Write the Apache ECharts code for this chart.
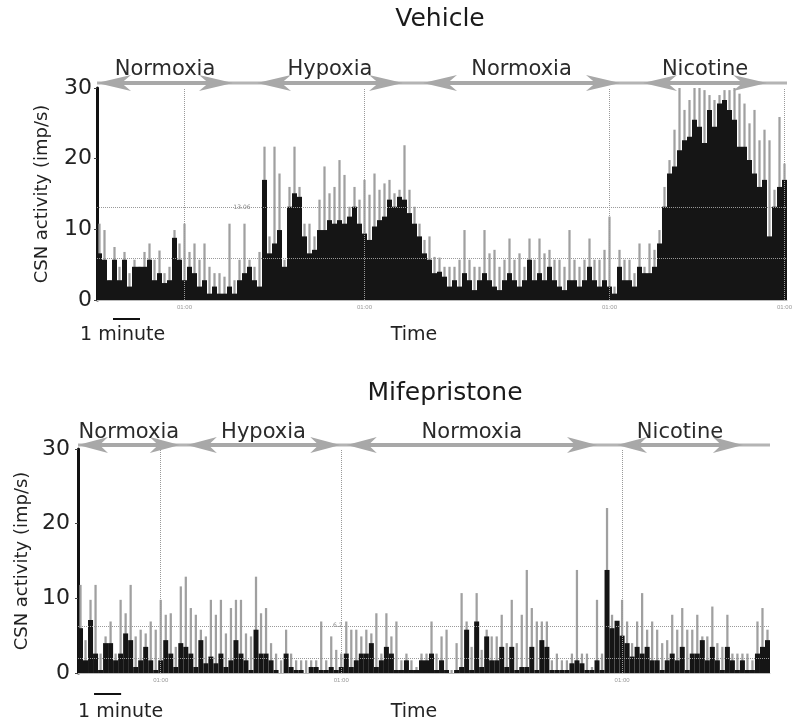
<!DOCTYPE html>
<html>
<head>
<meta charset="utf-8">
<script src="https://cdn.jsdelivr.net/npm/echarts@6/dist/echarts.min.js"></script>
<style>
html, body { margin: 0; padding: 0; background: #fff; }
#chart { width: 800px; height: 728px; }
</style>
</head>
<body>
<div id="chart"></div>
<script>
// CSN activity histograms, 138 time bins per trace (imp/s)
// "peak" = grey spikes on top, "body" = dark mass underneath
var vehPeak = [
  10.8, 9.9, 2.8, 7.5, 4.7, 6.8, 3.8, 5.7, 4.7, 6.8, 8.0, 5.7, 7.0, 3.8, 4.7, 9.9, 8.0, 10.8, 6.8, 8.0, 5.7, 8.0, 4.7, 3.8, 3.8, 3.3, 10.8, 2.8, 5.7, 10.8, 5.7, 4.7, 6.8, 21.7,
  9.0, 21.7, 17.9, 5.7, 16.0, 21.7, 16.0, 10.8, 10.8, 9.0, 14.2, 18.9, 15.1, 16.0, 19.8, 17.7, 13.2, 16.0, 14.2, 17.0, 14.9, 17.9, 15.6, 16.5, 17.0, 15.1, 15.6, 21.9, 15.6, 13.2, 10.8, 8.5, 9.0, 6.1,
  6.0, 4.7, 4.7, 4.7, 5.7, 9.9, 5.7, 4.7, 4.7, 9.9, 6.6, 7.1, 4.7, 5.7, 8.7, 5.7, 6.6, 4.7, 8.7, 5.7, 8.7, 6.6, 7.1, 5.7, 5.7, 4.7, 9.9, 5.7, 4.7, 5.7, 8.7, 5.7, 5.7, 7.1,
  11.8, 1.9, 7.1, 5.7, 5.7, 3.8, 8.0, 4.7, 8.0, 7.1, 9.9, 16.0, 19.8, 24.1, 30, 26.9, 28.3, 30, 30, 29.7, 29.0, 28.3, 29.0, 29.7, 29.7, 30, 29.2, 27.8, 25.0, 26.9, 22.6, 24.1, 22.6, 15.6, 25.9, 19.3
];
var vehBody = [
  6.6, 5.7, 2.8, 5.7, 2.8, 5.7, 1.9, 4.7, 4.7, 4.7, 5.7, 2.8, 3.8, 2.4, 2.8, 8.8, 5.7, 2.8, 4.7, 3.8, 1.9, 2.8, 0.9, 1.9, 0.9, 0.9, 1.9, 0.9, 2.8, 3.8, 4.7, 2.8, 1.9, 17.0,
  6.6, 8.0, 9.9, 4.7, 13.2, 15.1, 14.6, 9.0, 6.6, 7.1, 9.9, 9.9, 11.3, 10.8, 11.3, 10.8, 11.8, 13.2, 10.8, 9.4, 8.5, 10.4, 11.3, 11.8, 14.2, 13.2, 14.6, 14.2, 12.3, 10.8, 9.0, 6.6, 5.7, 3.8,
  4.0, 3.3, 1.9, 2.8, 1.9, 3.8, 2.8, 1.4, 2.8, 3.8, 2.8, 1.9, 1.4, 2.8, 3.8, 2.8, 1.9, 2.8, 5.7, 2.8, 3.8, 2.8, 4.7, 2.8, 1.9, 1.4, 2.8, 2.8, 1.9, 2.8, 4.7, 2.8, 1.9, 2.8,
  1.9, 0.9, 4.7, 2.8, 2.8, 1.9, 4.7, 3.8, 3.8, 4.7, 8.0, 13.2, 17.9, 18.9, 21.2, 22.6, 23.1, 25.5, 24.5, 22.2, 26.9, 24.5, 27.8, 28.3, 26.9, 25.5, 21.7, 21.7, 19.8, 17.9, 16.0, 17.0, 9.0, 13.2, 16.0, 17.0
];
var mifPeak = [
  11.8, 4.4, 9.8, 11.8, 2.6, 4.9, 6.9, 2.6, 9.8, 8.0, 11.8, 4.9, 5.8, 5.3, 6.9, 5.8, 9.8, 7.8, 8.0, 3.5, 11.6, 12.9, 8.7, 7.8, 5.8, 4.9, 9.8, 7.8, 9.8, 5.3, 8.7, 9.8, 9.8, 5.3,
  4.9, 12.9, 8.0, 8.7, 4.0, 2.6, 1.7, 5.8, 2.6, 1.7, 1.7, 1.7, 1.7, 1.7, 6.9, 1.7, 4.9, 3.1, 2.6, 6.9, 5.8, 5.8, 4.9, 5.8, 5.3, 8.0, 2.6, 8.0, 4.9, 6.9, 1.7, 2.6, 1.7, 0.8, 2.6,
  2.6, 6.9, 2.6, 4.9, 5.8, 0.4, 4.0, 10.7, 6.9, 3.5, 10.7, 3.1, 5.8, 4.9, 4.9, 7.8, 4.0, 9.8, 4.0, 7.8, 13.8, 8.7, 6.9, 6.9, 6.9, 1.7, 2.6, 1.7, 1.7, 2.6, 13.8, 2.6, 2.6, 0.8, 9.8,
  2.6, 22.1, 7.8, 6.9, 9.8, 6.9, 4.0, 6.9, 10.7, 5.8, 6.9, 5.8, 4.0, 4.4, 7.8, 5.8, 8.7, 5.8, 5.8, 7.8, 4.9, 4.9, 8.9, 4.0, 3.5, 7.8, 2.6, 2.6, 2.6, 2.6, 1.7, 6.9, 8.7, 5.8
];
var mifBody = [
  6.0, 1.7, 7.1, 2.6, 0.4, 4.0, 4.0, 1.7, 2.6, 5.3, 4.4, 0.8, 1.7, 3.5, 1.7, 0.4, 1.7, 4.4, 2.6, 0.8, 4.0, 3.5, 2.6, 0.8, 4.4, 1.3, 2.2, 1.3, 2.6, 0.8, 1.7, 4.4, 2.6, 1.7,
  0.4, 5.8, 2.6, 2.6, 1.7, 0.4, 0, 2.6, 0.8, 0.4, 0.4, 0, 0.8, 0.8, 0.4, 0.4, 0.8, 0.4, 0.8, 2.6, 0.8, 1.7, 2.6, 2.6, 4.0, 0.8, 1.7, 3.5, 2.6, 0.4, 0.4, 1.7, 0.4, 0.4, 1.7,
  1.7, 2.6, 0.4, 1.7, 0.4, 0, 0.4, 0.8, 5.8, 0.4, 6.9, 0.8, 4.9, 1.7, 1.7, 3.5, 0.8, 3.5, 0.4, 0.8, 0.8, 3.5, 0.4, 4.4, 3.5, 0.4, 0.4, 0.4, 0.4, 1.3, 1.7, 1.3, 0.4, 0.4, 1.7,
  0.4, 13.8, 6.0, 7.0, 5.0, 4.0, 2.2, 3.5, 2.6, 3.5, 1.7, 1.7, 0.4, 1.7, 2.6, 1.7, 3.5, 0.4, 2.6, 2.6, 4.4, 1.7, 3.5, 1.7, 0.4, 3.5, 1.7, 0.4, 1.7, 0.4, 0.4, 2.6, 3.5, 4.4
];

var bins = [];
for (var i = 0; i < vehBody.length; i++) bins.push(i);

// phases (in bin units, from the left edge of the trace)
var phaseNames = ['Normoxia', 'Hypoxia', 'Normoxia', 'Nicotine'];
var vehPhaseStart = [0, 32, 65.2, 109.2];
var vehPhaseEnd = [27.2, 61.2, 104.6, 134];
var mifPhaseStart = [0, 21.7, 53.6, 107.5];
var mifPhaseEnd = [20.3, 52.3, 103.5, 132.6];

// cursor lines / levels from the recording software
var vehMarkBins = [17, 53, 102, 137];
var vehLevels = [13.06, 5.84];
var mifMarkBins = [16, 52, 108];
var mifLevels = [6.2, 2.0];
var yTicks = [0, 10, 20, 30];

var FONT = '"DejaVu Sans", "Liberation Sans", Arial, sans-serif';
var chart = echarts.init(document.getElementById('chart'));

function marks(xs, levels) {
  var d = [];
  xs.forEach(function (x) {
    d.push({ xAxis: x, label: { show: true, position: 'start', formatter: '01:00', fontSize: 6, color: '#999', distance: 4 } });
  });
  levels.forEach(function (v) {
    d.push({ yAxis: v, label: { show: false } });
  });
  return {
    silent: true,
    symbol: 'none',
    animation: false,
    lineStyle: { color: '#999', type: 'dotted', width: 1 },
    data: d
  };
}

function yAxisCfg(g, gap, margin) {
  return {
    type: 'value', gridIndex: g, min: yTicks[0], max: yTicks[3], interval: 10,
    name: 'CSN activity (imp/s)', nameLocation: 'middle', nameGap: gap,
    nameTextStyle: { fontSize: 18, fontFamily: FONT, color: '#222' },
    axisLine: { show: true, lineStyle: { color: '#111', width: 3 } },
    axisTick: { show: true, length: 3, lineStyle: { color: '#444' } },
    axisLabel: { fontSize: 22, fontFamily: FONT, color: '#222', margin: margin },
    splitLine: { show: false }
  };
}

function xAxisCfg(g, visible) {
  return {
    type: 'category', gridIndex: g, data: bins, boundaryGap: true, show: visible,
    axisLine: { lineStyle: { color: '#bbb', width: 1 } },
    axisTick: { show: false }, axisLabel: { show: false }, splitLine: { show: false }
  };
}

var option = {
  animation: false,
  backgroundColor: '#fff',
  grid: [
    { left: 97, right: 13, top: 88, height: 212 },
    { left: 78, right: 30, top: 449, height: 224 }
  ],
  xAxis: [xAxisCfg(0, true), xAxisCfg(0, false), xAxisCfg(1, true), xAxisCfg(1, false)],
  yAxis: [yAxisCfg(0, 46, 5), yAxisCfg(1, 47, 8)],
  series: [
    { type: 'bar', xAxisIndex: 1, yAxisIndex: 0, data: vehPeak, barWidth: '45%', itemStyle: { color: '#a0a0a0' }, silent: true },
    { type: 'bar', xAxisIndex: 0, yAxisIndex: 0, data: vehBody, barWidth: '100%', itemStyle: { color: '#151515' }, silent: true,
      markLine: marks(vehMarkBins, vehLevels) },
    { type: 'bar', xAxisIndex: 3, yAxisIndex: 1, data: mifPeak, barWidth: '45%', itemStyle: { color: '#a0a0a0' }, silent: true },
    { type: 'bar', xAxisIndex: 2, yAxisIndex: 1, data: mifBody, barWidth: '100%', itemStyle: { color: '#151515' }, silent: true,
      markLine: marks(mifMarkBins, mifLevels) }
  ]
};
chart.setOption(option);

// pixel position of a bin-edge coordinate v on panel g
function px(g, v, y) {
  var p0 = chart.convertToPixel({ xAxisIndex: g * 2, yAxisIndex: g }, [0, y]);
  var p1 = chart.convertToPixel({ xAxisIndex: g * 2, yAxisIndex: g }, [1, y]);
  var bw = p1[0] - p0[0];
  return [p0[0] - bw / 2 + v * bw, p0[1]];
}

var gfx = [];
function text(x, y, s, size, color, align) {
  gfx.push({ type: 'text', x: x, y: y, silent: true,
    style: { text: s, fontSize: size, fontFamily: FONT, fill: color || '#222', align: align || 'center', verticalAlign: 'middle' } });
}
function head(x, y, dir, L, H) {
  gfx.push({ type: 'polygon', silent: true,
    shape: { points: [[x, y], [x + dir * L, y - H], [x + dir * L * 0.72, y], [x + dir * L, y + H]] },
    style: { fill: '#a8a8a8' } });
}
function phaseBar(g, starts, ends, arrowOff, labelOff, L) {
  var a = px(g, 0, 30), b = px(g, bins.length, 30);
  var y = a[1] - arrowOff;
  gfx.push({ type: 'line', silent: true, shape: { x1: a[0], y1: y, x2: b[0], y2: y }, style: { stroke: '#b4b4b4', lineWidth: 3 } });
  for (var i = 0; i < phaseNames.length; i++) {
    var s = px(g, starts[i], 30)[0], e = px(g, ends[i], 30)[0];
    gfx.push({ type: 'line', silent: true, shape: { x1: s + 10, y1: y, x2: e - 10, y2: y }, style: { stroke: '#a8a8a8', lineWidth: 4 } });
    head(s, y, 1, L, 8);
    head(e, y, -1, L, 8);
    text((s + e) / 2, a[1] - labelOff, phaseNames[i], 21, '#2a2a2a');
  }
}
phaseBar(0, vehPhaseStart, vehPhaseEnd, 5, 18, 34);
phaseBar(1, mifPhaseStart, mifPhaseEnd, 4, 16, 30);

// level labels
var l0 = px(0, 29, vehLevels[0]);
text(l0[0], l0[1], '13.06', 6, '#888');
var l1 = px(1, 53, mifLevels[0]);
text(l1[0] - 6, l1[1] - 1, '6.2', 6, '#888');

// titles
text(440, 19, 'Vehicle', 25, '#1a1a1a');
text(445, 393, 'Mifepristone', 25, '#1a1a1a');

// scale bars and time labels
[[0, 319, 335], [1, 694, 712]].forEach(function (r) {
  var g = r[0];
  var a = px(g, 3.2, 0), b = px(g, 8.6, 0);
  gfx.push({ type: 'line', silent: true, shape: { x1: a[0], y1: r[1], x2: b[0], y2: r[1] }, style: { stroke: '#111', lineWidth: 2 } });
  text(g === 0 ? 80 : 78, r[2], '1 minute', 19, '#222', 'left');
  text(414, r[2], 'Time', 19, '#222');
});

chart.setOption({ graphic: { elements: gfx } });
</script>
</body>
</html>
